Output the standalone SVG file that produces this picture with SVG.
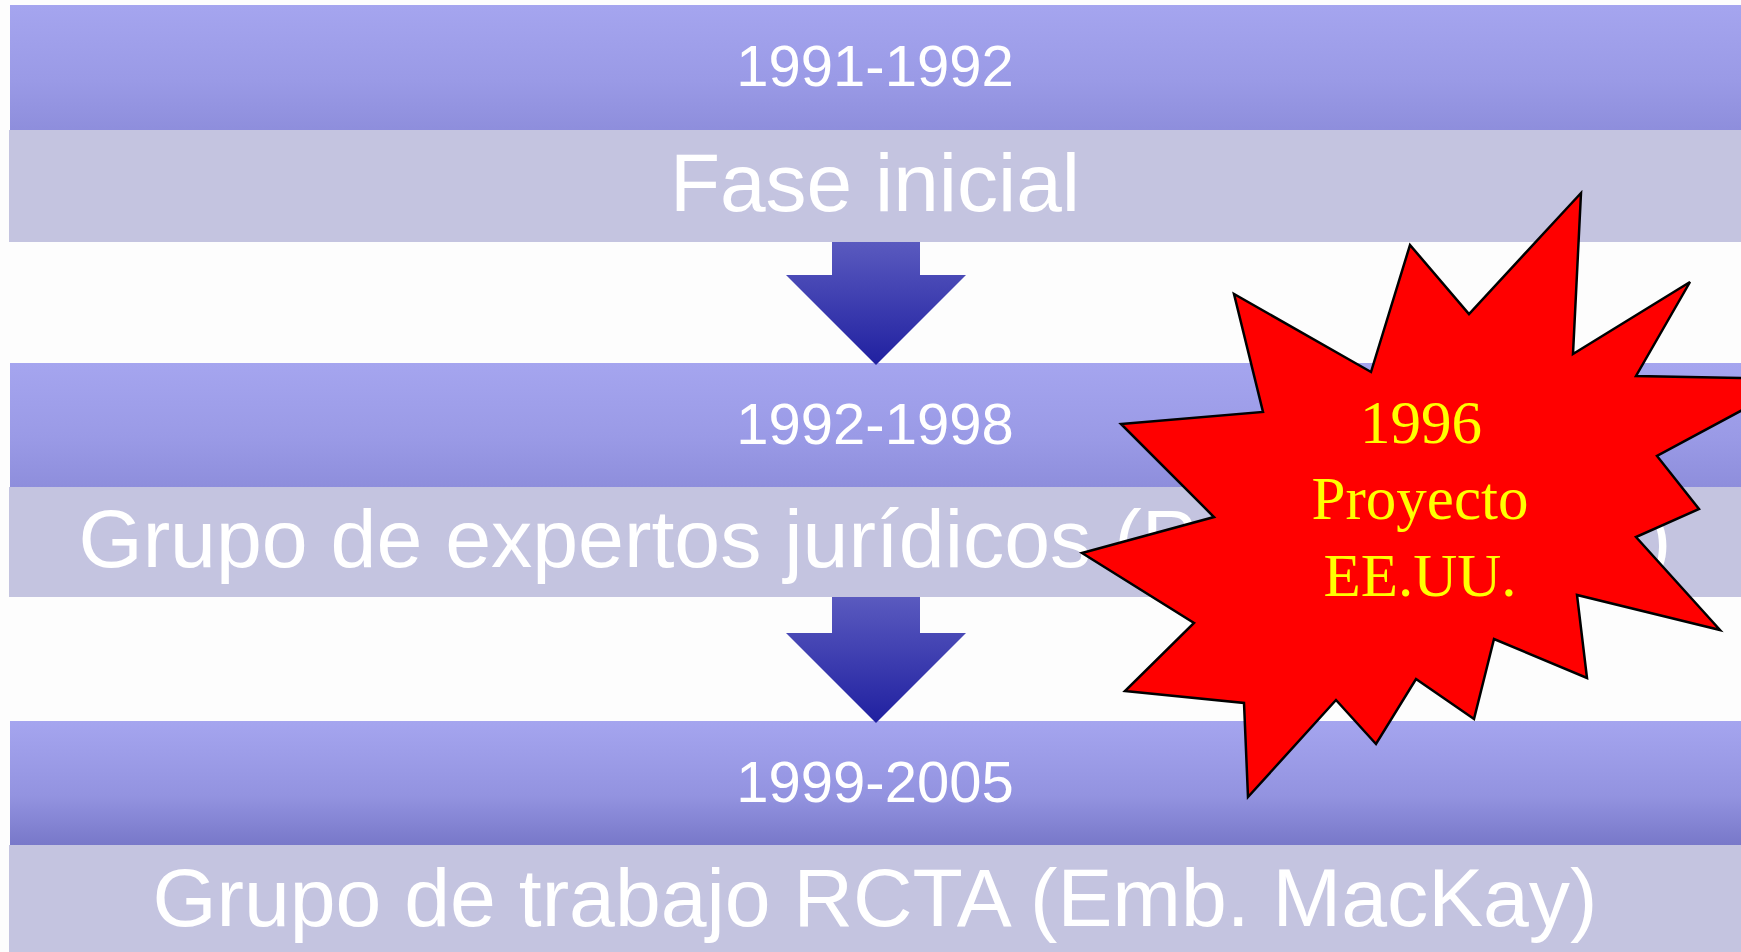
<svg xmlns="http://www.w3.org/2000/svg" width="1741" height="952" viewBox="0 0 1741 952">
<defs>
<linearGradient id="gPurple" x1="0" y1="0" x2="0" y2="1">
<stop offset="0" stop-color="#a5a5ef"/>
<stop offset="0.6" stop-color="#9a9ae6"/>
<stop offset="1" stop-color="#8e8edc"/>
</linearGradient>
<linearGradient id="gPurple3" x1="0" y1="0" x2="0" y2="1">
<stop offset="0" stop-color="#a5a5ef"/>
<stop offset="0.6" stop-color="#9393e0"/>
<stop offset="1" stop-color="#7878c9"/>
</linearGradient>
<linearGradient id="gArrow" x1="0" y1="0" x2="0" y2="1">
<stop offset="0" stop-color="#5a5abf"/>
<stop offset="1" stop-color="#2020a0"/>
</linearGradient>
<style>
.band{fill:url(#gPurple);}
.band3{fill:url(#gPurple3);}
.gray{fill:#c4c4e0;}
.yr{font-family:"Liberation Sans",Arial,sans-serif;font-size:58px;fill:#ffffff;text-anchor:middle;}
.ttl{font-family:"Liberation Sans",Arial,sans-serif;font-size:82px;fill:#ffffff;text-anchor:middle;}
.arrow{fill:url(#gArrow);}
.star{fill:#ff0000;stroke:#000000;stroke-width:2.5;stroke-linejoin:miter;}
.st{font-family:"Liberation Serif","Times New Roman",serif;font-size:61px;fill:#ffff00;text-anchor:middle;}
</style>
</defs>
<rect x="0" y="0" width="1741" height="952" fill="#fdfdfd"/>
<g id="phase1">
<rect class="band" x="10" y="5" width="1731" height="125"/>
<text class="yr" x="875" y="86">1991-1992</text>
<rect class="gray" x="9" y="130" width="1732" height="112"/>
<text class="ttl" x="875" y="211">Fase inicial</text>
</g>
<g id="phase2">
<rect class="band" x="10" y="363" width="1731" height="124"/>
<text class="yr" x="875" y="444">1992-1998</text>
<rect class="gray" x="9" y="487" width="1732" height="110"/>
<text class="ttl" x="875" y="567" textLength="1593" lengthAdjust="spacingAndGlyphs">Grupo de expertos jurídicos (Prof. Wolfrum)</text>
</g>
<g id="phase3">
<rect class="band3" x="10" y="721" width="1731" height="124"/>
<text class="yr" x="875" y="802">1999-2005</text>
<rect class="gray" x="9" y="845" width="1732" height="107"/>
<text class="ttl" x="875" y="926" textLength="1445" lengthAdjust="spacingAndGlyphs">Grupo de trabajo RCTA (Emb. MacKay)</text>
</g>
<g id="connectors">
<polygon class="arrow" points="832,242 920,242 920,275 966,275 876,365 786,275 832,275"/>
<polygon class="arrow" points="832,597 920,597 920,633 966,633 876,723 786,633 832,633"/>
</g>
<g id="star">
<polygon class="star" points="1581,193 1573,354 1690,282 1636,376 1800,379 1657,456 1699,509 1636,537 1720,630 1577,595 1587,678 1494,639 1474,719 1416,679 1376,744 1336,700 1248,797 1244,703 1125,691 1194,623 1082,553 1214,517 1121,424 1263,412 1234,294 1371,372 1410,245 1469,314"/>
<text class="st" x="1421" y="443">1996</text>
<text class="st" x="1420" y="519">Proyecto</text>
<text class="st" x="1420" y="596">EE.UU.</text>
</g>
</svg>
